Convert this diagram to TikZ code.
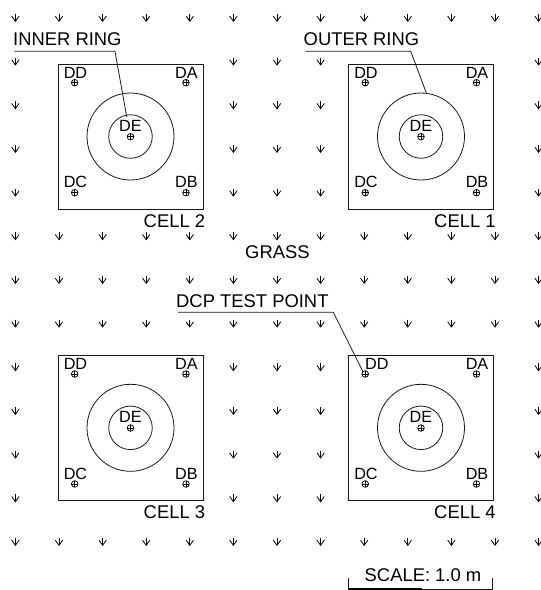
\documentclass[tikz,border=0pt]{standalone}
\usepackage{fontspec}
\setmainfont{Liberation Sans}
\tikzset{
  x=1pt,y=-1pt,
  ink/.style={draw=black!90,line width=0.8pt},
  lbl/.style={anchor=base,inner sep=0pt,text=black,font=\fontsize{18.4}{18.4}\selectfont},
  ptlbl/.style={anchor=base,inner sep=0pt,text=black,font=\fontsize{16.2}{16.2}\selectfont},
  leader/.style={draw=black!90,line width=0.8pt},
  pics/grassmark/.style={code={
    \draw[draw=black,line width=0.8pt] (0,-3.6) -- (0,3.8);
    \draw[draw=black,line width=0.8pt] (-3.7,-1.4) -- (0,3.8) -- (3.7,-1.4);
  }},
  pics/testpt/.style={code={
    \draw[draw=black,line width=0.75pt] (0,0) circle (3.3);
    \draw[draw=black,line width=0.75pt] (-3.3,0) -- (3.3,0) (0,-3.3) -- (0,3.3);
  }}
}
\newcommand{\cellunit}[4]{% id, left, top, caption
  \begin{scope}[shift={(#2,#3)}]
    \node[ink,rectangle,minimum width=145pt,minimum height=145pt,inner sep=0pt] (box#1) at (72.5,72.5) {};
    \node[ink,circle,minimum size=87pt,inner sep=0pt] (outer#1) at (72.5,72.5) {};
    \node[ink,circle,minimum size=43.5pt,inner sep=0pt] (inner#1) at (72.5,72.5) {};
    \pic at (16.7,18.7) {testpt};
    \pic at (128,18.7) {testpt};
    \pic at (128,128.7) {testpt};
    \pic at (16.7,128.7) {testpt};
    \pic at (72.5,72.7) {testpt};
    \node[ptlbl] (da#1) at (128.5,14.6) {DA};
    \node[ptlbl] (db#1) at (128.5,123.8) {DB};
    \node[ptlbl] (dc#1) at (17.5,123.8) {DC};
    \node[ptlbl] (de#1) at (72.5,67.4) {DE};
    \node[lbl,anchor=base east] (cap#1) at (147.3,163) {#4};
  \end{scope}
}
\begin{document}
\begin{tikzpicture}
\useasboundingbox (0,0) rectangle (541,590);
\fill[white] (0,0) rectangle (541,590);
% grass marks
\foreach \r in {0,5,6,7,12} \foreach \c in {0,...,12}
  \pic at ({15.4+43.6*\c},{17.5+43.67*\r}) {grassmark};
\foreach \r in {1,2,3,4,8,9,10,11} \foreach \c in {0,5,6,7,12}
  \pic at ({15.4+43.6*\c},{17.5+43.67*\r}) {grassmark};
% cells
\cellunit{2}{58}{64}{CELL 2}
\cellunit{1}{348.5}{64}{CELL 1}
\cellunit{3}{58}{355.3}{CELL 3}
\cellunit{4}{348.5}{355.3}{CELL 4}
\node[ptlbl] (dd2) at (75.5,78.6) {DD};
\node[ptlbl] (dd1) at (366,78.6) {DD};
\node[ptlbl] (dd3) at (75.5,369.9) {DD};
\node[ptlbl,anchor=base west] (dd4) at (365,369.4) {DD};
% labels
\node[lbl,anchor=base west] (innerlabel) at (13,45.9) {INNER RING};
\node[lbl,anchor=base west] (outerlabel) at (303.5,45.9) {OUTER RING};
\node[lbl,anchor=base west] (grass) at (245,258.2) {GRASS};
\node[lbl,anchor=base west] (dcplabel) at (176,307.2) {DCP TEST POINT};
\node[lbl,anchor=base west] (scalelabel) at (364.5,581.9) {SCALE: 1.0 m};
% leaders
\coordinate (iA) at (14.3,51.3); \coordinate (iB) at (115,51.3); \coordinate (iC) at (126.7,116.7);
\coordinate (oA) at (305.7,51.3); \coordinate (oB) at (410.7,51.3); \coordinate (oC) at (426.7,94);
\coordinate (dA) at (178,312.3); \coordinate (dB) at (333.3,312.3); \coordinate (dC) at (363,371.7);
\draw[leader] (iA) -- (iB) -- (iC);
\draw[leader] (oA) -- (oB) -- (oC);
\draw[leader] (dA) -- (dB) -- (dC);
% scale bar
\coordinate (sL) at (348.5,589); \coordinate (sM) at (421.7,589); \coordinate (sR) at (492.8,589);
\coordinate (sLt) at (348.5,577.5); \coordinate (sRt) at (492.8,577.5);
\draw[leader] (sLt) -- (sL) -- (sR) -- (sRt);
\draw[draw=black,line width=2pt] (sL) -- (sM);
\end{tikzpicture}
\end{document}
